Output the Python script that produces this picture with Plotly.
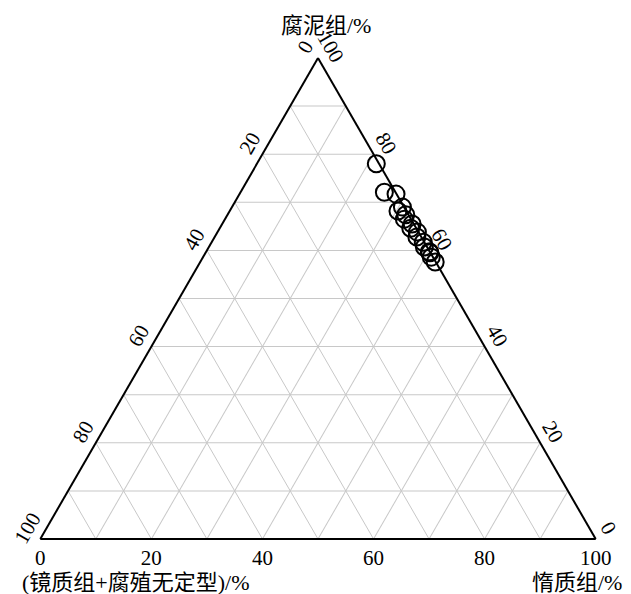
import plotly.graph_objects as go

# 腐泥组 (top), 镜质组+腐殖无定型 (bottom-left), 惰质组 (bottom-right), in %
sapropelinite = [78.0, 72.1, 71.7, 69.0, 68.2, 67.4, 66.5, 65.5, 64.6, 63.8, 62.8, 61.7, 60.7, 59.7, 58.6, 57.6, 59.5]
vitrinite = [0.5, 2.0, 0.1, 0.3, 1.5, 0.5, 1.2, 0.3, 1.0, 0.2, 0.8, 0.2, 0.5, 0.1, 0.3, 0.1, 0.1]
inertinite = [round(100 - s - v, 1) for s, v in zip(sapropelinite, vitrinite)]

grid_vals = [0, 10, 20, 30, 40, 50, 60, 70, 80, 90, 100]
# labels read on each edge run the opposite way to plotly's default
edge_text = ["100", "", "80", "", "60", "", "40", "", "20", "", "0"]

serif = "Liberation Serif, Noto Sans CJK SC"
W, H = 631, 594

fig = go.Figure()
fig.add_trace(go.Scatterternary(
    a=sapropelinite, b=vitrinite, c=inertinite,
    mode="markers",
    marker=dict(symbol="circle-open", size=17, color="black", line=dict(width=2)),
    cliponaxis=False, showlegend=False,
))

axis_common = dict(
    tickmode="array", tickvals=grid_vals, ticktext=edge_text,
    showgrid=True, gridcolor="#c8c8c8", gridwidth=1,
    linecolor="black", linewidth=2, showline=True,
    ticks="", ticklen=0, tickfont=dict(family=serif, size=21, color="black"),
    min=0, title=dict(text=""),
)

fig.update_layout(
    width=W, height=H,
    paper_bgcolor="white",
    margin=dict(l=0, r=0, t=0, b=0),
    font=dict(family=serif, color="black"),
    ternary=dict(
        domain=dict(x=[32 / W, 588 / W], y=[1 - 531 / H, 1 - 50 / H]),
        bgcolor="white",
        sum=100,
        aaxis=dict(axis_common, tickangle=-60),
        baxis=dict(axis_common),
        caxis=dict(axis_common, tickangle=60),
    ),
)

# axis titles at the three corners
title_font = dict(family=serif, size=22, color="black")
fig.add_annotation(text="腐泥组/%", x=318 / W, y=1 - 18 / H, xref="paper", yref="paper",
                   showarrow=False, xanchor="center", yanchor="middle", font=title_font)
fig.add_annotation(text="(镜质组+腐殖无定型)/%", x=12 / W, y=1 - 574 / H, xref="paper", yref="paper",
                   showarrow=False, xanchor="left", yanchor="middle", font=title_font)
fig.add_annotation(text="惰质组/%", x=616 / W, y=1 - 574 / H, xref="paper", yref="paper",
                   showarrow=False, xanchor="right", yanchor="middle", font=title_font)

fig.write_html("out.html")
